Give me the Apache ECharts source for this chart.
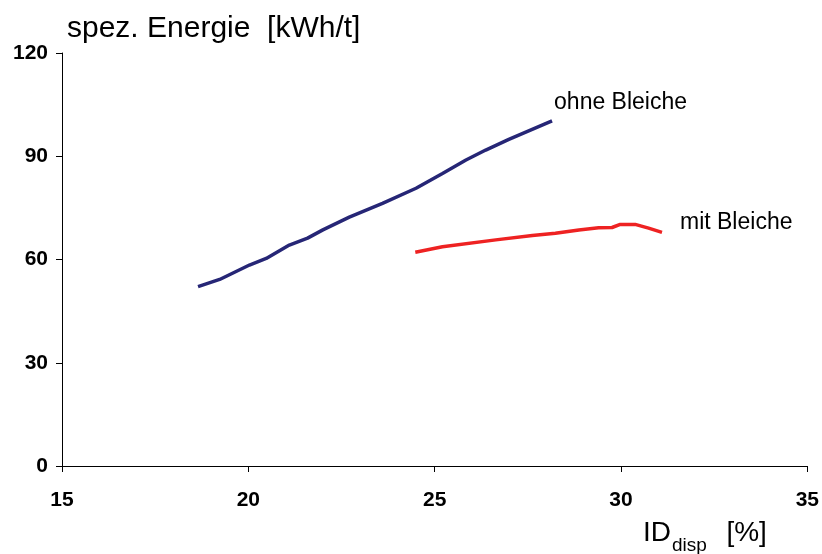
<!DOCTYPE html>
<html>
<head>
<meta charset="utf-8">
<script src="https://cdn.jsdelivr.net/npm/echarts@6/dist/echarts.min.js"></script>
<style>
  html, body { margin: 0; padding: 0; background: #fff; }
  #chart { width: 822px; height: 554px; }
</style>
</head>
<body>
<div id="chart"></div>
<script>
// Specific energy vs. ID_disp, with and without bleaching
const ohneX = [18.65, 19.23, 20.03, 20.48, 21.10, 21.59, 22.00, 22.71, 23.60, 24.50, 25.21, 25.84, 26.37, 26.99, 28.15];
const ohneY = [52.1, 54.2, 58.4, 60.3, 64.2, 66.2, 68.6, 72.3, 76.3, 80.7, 85.0, 88.9, 91.8, 94.9, 100.3];
const mitX = [24.48, 25.21, 26.64, 27.62, 28.24, 28.87, 29.40, 29.76, 29.98, 30.38, 30.74, 31.10];
const mitY = [62.1, 63.7, 65.7, 67.0, 67.6, 68.6, 69.2, 69.3, 70.2, 70.2, 69.1, 67.9];
const seriesNames = ['ohne Bleiche', 'mit Bleiche'];
const xTicks = [15, 20, 25, 30, 35];
const yTicks = [0, 30, 60, 90, 120];

const pairs = (xs, ys) => xs.map((x, i) => [x, ys[i]]);
const font = 'Arial, "Liberation Sans", sans-serif';

const chart = echarts.init(document.getElementById('chart'), null, { renderer: 'canvas' });
chart.setOption({
  backgroundColor: '#ffffff',
  animation: false,
  grid: { left: 62, right: 13, top: 53, bottom: 88, containLabel: false },
  graphic: [
    {
      type: 'text', left: 67, top: 14,
      style: {
        text: 'spez. Energie  [kWh/t]',
        font: '30px ' + font, fill: '#000'
      }
    },
    {
      type: 'text', left: 643, top: 519,
      style: {
        text: '{m|ID}{s|disp}{m|  [%]}',
        fill: '#000',
        rich: {
          m: { fontFamily: font, fontSize: 28, color: '#000', verticalAlign: 'bottom' },
          s: { fontFamily: font, fontSize: 19, color: '#000', verticalAlign: 'bottom', padding: [0, 4, -8, 1] }
        }
      }
    }
  ],
  xAxis: {
    type: 'value', min: xTicks[0], max: xTicks[xTicks.length - 1], interval: 5,
    axisLine: { lineStyle: { color: '#000', width: 1 } },
    axisTick: { show: true, length: 6, lineStyle: { color: '#000' } },
    splitLine: { show: false },
    axisLabel: { fontFamily: font, fontSize: 21, fontWeight: 'bold', color: '#000', margin: 24 }
  },
  yAxis: {
    type: 'value', min: yTicks[0], max: yTicks[yTicks.length - 1], interval: 30,
    axisLine: { show: true, lineStyle: { color: '#000', width: 1 } },
    axisTick: { show: true, length: 6, lineStyle: { color: '#000' } },
    splitLine: { show: false },
    axisLabel: { fontFamily: font, fontSize: 21, fontWeight: 'bold', color: '#000', margin: 14 }
  },
  series: [
    {
      name: seriesNames[0], type: 'line', data: pairs(ohneX, ohneY),
      showSymbol: false, smooth: false,
      lineStyle: { color: '#262676', width: 3.5 },
      endLabel: {
        show: true, formatter: '{a}', offset: [-6, -18],
        fontFamily: font, fontSize: 23, color: '#000'
      }
    },
    {
      name: seriesNames[1], type: 'line', data: pairs(mitX, mitY),
      showSymbol: false, smooth: false,
      lineStyle: { color: '#ee2222', width: 3.5 },
      endLabel: {
        show: true, formatter: '{a}', offset: [10, -10],
        fontFamily: font, fontSize: 23, color: '#000'
      }
    }
  ]
});
</script>
</body>
</html>
